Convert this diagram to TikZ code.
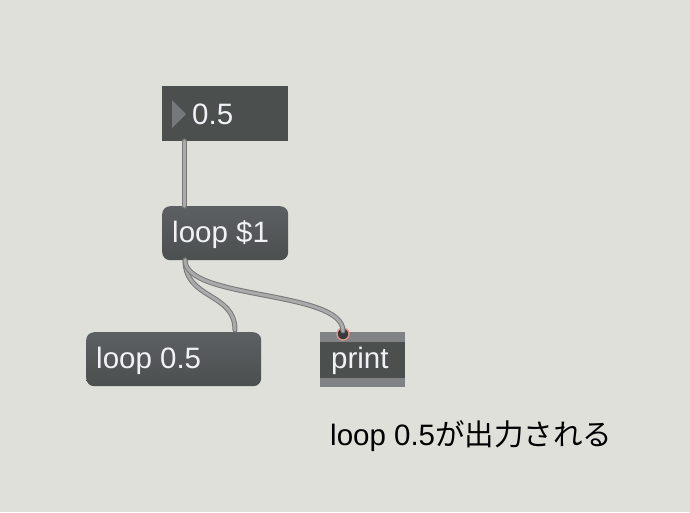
\documentclass[tikz,border=0pt]{standalone}
\usepackage{fontspec}
\setmainfont{Liberation Sans}
\newfontfamily\cjk{Noto Sans CJK JP}
\definecolor{bg}{RGB}{223,224,218}
\definecolor{boxdark}{RGB}{75,79,78}
\definecolor{boxtop}{RGB}{93,96,99}
\definecolor{band}{RGB}{128,130,134}
\definecolor{tri}{RGB}{118,121,124}
\definecolor{txt}{RGB}{240,242,246}
\definecolor{cableout}{RGB}{120,120,120}
\definecolor{cablein}{RGB}{170,170,170}
\definecolor{inletrim}{RGB}{232,150,135}
\definecolor{inletfill}{RGB}{55,58,60}
\begin{document}
\begin{tikzpicture}[x=1pt,y=-1pt,
  numbox/.style={fill=boxdark, draw=none, anchor=north west, inner sep=0pt},
  msgbox/.style={top color=boxtop, bottom color=boxdark, draw=none, rounded corners=8pt, anchor=north west, inner sep=0pt},
  boxtext/.style={text=txt, anchor=base west, inner sep=0pt, font=\fontsize{29.5}{31}\selectfont},
  cableO/.style={draw=cableout, line width=5pt, line cap=round},
  cableI/.style={draw=cablein, line width=3pt, line cap=round}]
\fill[bg] (0,0) rectangle (690,512);
\useasboundingbox (0,0) rectangle (690,512);
% number box
\node[numbox, minimum width=126pt, minimum height=55pt] (num) at (162,86) {};
\fill[tri] (172,100) -- (186,114) -- (172,128) -- cycle;
\node[boxtext] (numtxt) at (192,124) {0.5};
% loop $1
\node[msgbox, minimum width=126pt, minimum height=54pt] (loop) at (162,206) {};
\node[boxtext] (looptxt) at (172,242) {loop \$1};
% loop 0.5
\node[msgbox, minimum width=175pt, minimum height=54pt] (loopb) at (86,332) {};
\node[boxtext] (loopbtxt) at (96,368) {loop 0.5};
% print
\node[fill=band, draw=none, anchor=north west, inner sep=0pt, minimum width=85pt, minimum height=55pt] (print) at (320,332) {};
\fill[boxdark] (320,342) rectangle (405,378);
\node[boxtext] (printtxt) at (331,368) {print};
% inlet
\coordinate (pin) at (343,334);
\filldraw[fill=inletfill, draw=inletrim, line width=1.3pt] (pin) circle (6pt);
% connection points
\coordinate (numout) at (184,141);
\coordinate (loopin) at (184,206);
\coordinate (loopout) at (185,260);
\coordinate (loopbin) at (235,330);
\coordinate (printin) at (343,331);
% cables
\draw[cableO] (numout) -- (loopin);
\draw[cableI] (numout) -- (loopin);
\draw[cableO] (loopout) .. controls (185,300) and (235,292) .. (loopbin);
\draw[cableI] (loopout) .. controls (185,300) and (235,292) .. (loopbin);
\draw[cableO] (loopout) .. controls (185,300) and (343,290) .. (printin);
\draw[cableI] (loopout) .. controls (185,300) and (343,290) .. (printin);
% caption
\node[anchor=base west, inner sep=0pt, text=black, font=\fontsize{29.5}{31}\selectfont] (cap) at (330,445) {loop 0.5{\cjk が出力される}};
\end{tikzpicture}
\end{document}
